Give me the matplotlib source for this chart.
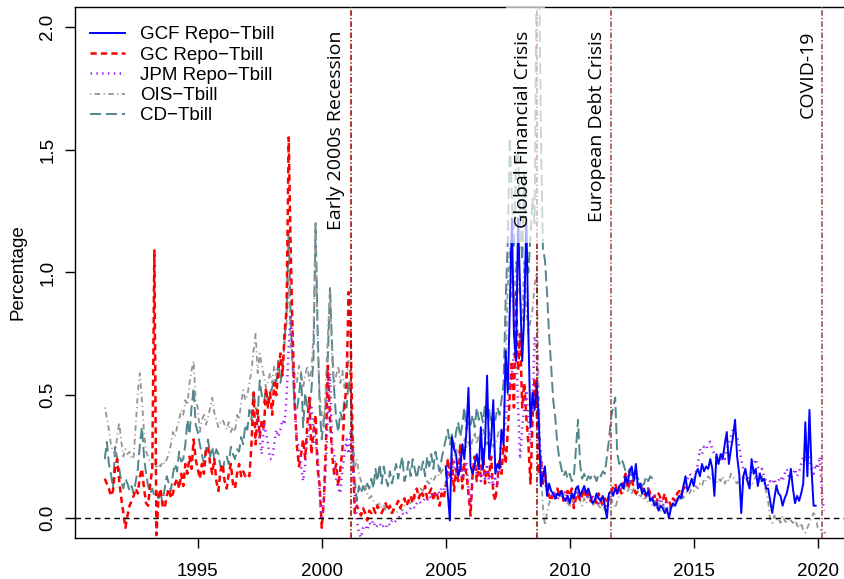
"""Repo and money-market spreads over T-bills, 1991-2020."""
import matplotlib
matplotlib.use("Agg")
import matplotlib.pyplot as plt
import numpy as np
from matplotlib.patches import Rectangle
from matplotlib.ticker import FormatStrFormatter

plt.rcParams.update({
    "font.family": ["Liberation Sans", "DejaVu Sans"],
    "font.size": 13,
    "lines.scale_dashes": False,
})

# monthly spreads (percentage points)
GC_START = 1991 + 3 / 12  # Apr 1991
gc_repo = [
    0.16, 0.14, 0.12, 0.09, 0.11, 0.20, 0.24, 0.15, 0.08,
    0.02, -0.04, 0.01, 0.05, 0.07, 0.09, 0.12, 0.10, 0.17, 0.20, 0.12, 0.06,
    0.05, 0.14, 0.20, 1.09, -0.07, 0.08, 0.12, 0.05, 0.04, 0.09, 0.12, 0.08,
    0.10, 0.14, 0.16, 0.12, 0.18, 0.13, 0.22, 0.18, 0.25, 0.20, 0.32, 0.24,
    0.20, 0.16, 0.22, 0.18, 0.28, 0.29, 0.22, 0.18, 0.24, 0.15, 0.11, 0.19,
    0.22, 0.15, 0.12, 0.18, 0.22, 0.14, 0.12, 0.18, 0.22, 0.17, 0.19, 0.17,
    0.18, 0.17, 0.30, 0.51, 0.30, 0.44, 0.33, 0.40, 0.36, 0.53, 0.45, 0.51,
    0.42, 0.55, 0.50, 0.60, 0.67, 0.58, 0.75, 0.85, 1.55, 1.08, 0.72, 0.45,
    0.29, 0.21, 0.26, 0.32, 0.24, 0.38, 0.49, 0.26, 0.35, 0.42, 0.20, 0.13,
    -0.04, 0.07, 0.30, 0.62, 0.40, 0.26, 0.18, 0.22, 0.13, 0.20, 0.28, 0.45,
    0.55, 0.92, 0.74, 0.26, 0.02, 0.05, 0.03, 0.01, 0.04, 0.02, -0.01, 0.03,
    0.02, 0.04, 0.02, 0.05, 0.03, 0.02, 0.04, 0.06, 0.03, 0.05, 0.02, 0.04,
    0.05, 0.07, 0.04, 0.06, 0.08, 0.05, 0.07, 0.09, 0.06, 0.10, 0.12, 0.08,
    0.11, 0.09, 0.13, 0.08, 0.10, 0.12, 0.07, 0.11, 0.09, 0.05, 0.10, 0.08,
    0.13, 0.24, 0.17, 0.24, 0.11, 0.20, 0.15, 0.30, 0.12, 0.22, 0.18, 0.10,
    0.01, 0.18, 0.25, 0.15, 0.22, 0.17, 0.28, 0.14, 0.20, 0.17, 0.25, 0.10,
    0.07, 0.15, 0.24, 0.18, 0.30, 0.22, 0.35, 0.50, 0.64, 0.45, 0.92, 0.60,
    0.75, 0.45, 0.55, 0.41, 0.30, 0.14, 0.40, 0.57, 0.45, 0.18, 0.25, 0.14,
    0.18, 0.12, 0.09, 0.07, 0.10, 0.08, 0.12, 0.09, 0.11, 0.07, 0.10, 0.11,
    0.09, 0.12, 0.04, 0.08, 0.10, 0.07, 0.09, 0.12, 0.08, 0.10, 0.07, 0.09,
    0.08, 0.06, 0.10, 0.07, 0.05, 0.08, 0.06, 0.09, 0.10, 0.13, 0.14, 0.11,
    0.12, 0.10, 0.15, 0.18, 0.12, 0.14, 0.16, 0.12, 0.10, 0.11, 0.13, 0.12,
    0.10, 0.09, 0.12, 0.10, 0.08, 0.09, 0.06, 0.10, 0.08, 0.07, 0.10, 0.06,
    0.07, 0.05, 0.08, 0.07, 0.10, 0.11, 0.09, 0.13, 0.12,
]

CD_START = 1991 + 3 / 12  # Apr 1991
cd_tbill = [
    0.24, 0.31, 0.22, 0.18, 0.12, 0.29, 0.24, 0.20, 0.15,
    0.12, 0.16, 0.14, 0.11, 0.13, 0.10, 0.15, 0.20, 0.30, 0.37, 0.25, 0.18,
    0.13, 0.10, 0.12, 0.09, 0.11, 0.08, 0.10, 0.06, 0.12, 0.17, 0.14, 0.11,
    0.18, 0.22, 0.19, 0.27, 0.23, 0.24, 0.30, 0.40, 0.34, 0.45, 0.53, 0.38,
    0.35, 0.30, 0.26, 0.22, 0.28, 0.32, 0.25, 0.29, 0.24, 0.28, 0.26, 0.21,
    0.18, 0.24, 0.25, 0.22, 0.29, 0.26, 0.24, 0.28, 0.27, 0.33, 0.30, 0.38,
    0.36, 0.44, 0.40, 0.52, 0.45, 0.42, 0.56, 0.50, 0.47, 0.52, 0.48, 0.51,
    0.53, 0.57, 0.55, 0.64, 0.55, 0.60, 0.72, 0.85, 1.17, 0.81, 0.60, 0.44,
    0.44, 0.50, 0.59, 0.37, 0.51, 0.45, 0.44, 0.52, 0.65, 1.20, 0.78, 0.45,
    0.32, 0.40, 0.47, 0.67, 0.94, 0.70, 0.52, 0.40, 0.35, 0.43, 0.40, 0.48,
    0.45, 0.56, 0.51, 0.26, 0.15, 0.07, 0.13, 0.10, 0.13, 0.11, 0.14, 0.12,
    0.16, 0.12, 0.20, 0.15, 0.22, 0.14, 0.21, 0.16, 0.13, 0.19, 0.14, 0.18,
    0.22, 0.16, 0.21, 0.25, 0.15, 0.18, 0.23, 0.17, 0.24, 0.20, 0.16, 0.21,
    0.19, 0.23, 0.17, 0.25, 0.21, 0.26, 0.20, 0.27, 0.23, 0.19, 0.24, 0.28,
    0.32, 0.36, 0.30, 0.34, 0.29, 0.35, 0.39, 0.33, 0.38, 0.45, 0.36, 0.40,
    0.38, 0.42, 0.37, 0.45, 0.40, 0.43, 0.39, 0.46, 0.41, 0.44, 0.38, 0.43,
    0.40, 0.45, 0.42, 0.48, 0.55, 0.89, 1.12, 1.55, 1.30, 1.10, 1.45, 1.50,
    1.20, 1.05, 1.40, 1.10, 1.00, 1.15, 1.30, 1.20, 2.30, 2.40, 1.60, 1.10,
    1.05, 0.92, 0.75, 0.62, 0.48, 0.41, 0.30, 0.24, 0.20, 0.17, 0.19, 0.16,
    0.18, 0.15, 0.17, 0.28, 0.40, 0.22, 0.16, 0.18, 0.15, 0.17, 0.16, 0.18,
    0.17, 0.15, 0.18, 0.17, 0.19, 0.18, 0.25, 0.32, 0.41, 0.45, 0.49, 0.26,
    0.22, 0.24, 0.22, 0.19, 0.18, 0.20, 0.18, 0.17, 0.19, 0.16, 0.15, 0.13,
    0.14, 0.17, 0.15, 0.17, 0.16, 0.14,
]

OIS_START = 1991 + 3 / 12  # Apr 1991
ois_tbill = [
    0.45, 0.41, 0.36, 0.30, 0.27, 0.26, 0.33, 0.39, 0.31,
    0.25, 0.28, 0.26, 0.27, 0.24, 0.25, 0.38, 0.51, 0.59, 0.48, 0.35, 0.27,
    0.25, 0.23, 0.21, 0.24, 0.20, 0.22, 0.21, 0.23, 0.22, 0.24, 0.26, 0.30,
    0.35, 0.33, 0.37, 0.40, 0.44, 0.42, 0.48, 0.46, 0.55, 0.60, 0.64, 0.48,
    0.45, 0.35, 0.40, 0.42, 0.38, 0.41, 0.45, 0.49, 0.43, 0.40, 0.37, 0.39,
    0.40, 0.38, 0.36, 0.39, 0.35, 0.37, 0.35, 0.42, 0.40, 0.47, 0.52, 0.48,
    0.50, 0.55, 0.60, 0.68, 0.75, 0.59, 0.67, 0.62, 0.58, 0.53, 0.56, 0.59,
    0.55, 0.62, 0.58, 0.60, 0.65, 0.62, 0.70, 0.80, 0.97, 0.70, 0.62, 0.58,
    0.55, 0.62, 0.60, 0.53, 0.58, 0.62, 0.56, 0.60, 0.75, 1.20, 0.70, 0.50,
    0.42, 0.37, 0.55, 0.75, 0.92, 0.65, 0.53, 0.58, 0.62, 0.55, 0.60, 0.53,
    0.58, 0.64, 0.55, 0.35, 0.21, 0.24, 0.18, 0.15, 0.12, 0.13, 0.10, 0.08,
    0.09, 0.07, 0.06, 0.05, 0.06, 0.04, 0.05, 0.03, 0.04, 0.03, 0.02, 0.03,
    0.02, 0.03, 0.04, 0.03, 0.05, 0.06, 0.07, 0.06, 0.09, 0.08, 0.10, 0.11,
    0.12, 0.11, 0.13, 0.15, 0.14, 0.16, 0.15, 0.17, 0.18, 0.17, 0.19, 0.20,
    0.21, 0.24, 0.22, 0.26, 0.25, 0.28, 0.26, 0.30, 0.27, 0.33, 0.29, 0.31,
    0.28, 0.32, 0.35, 0.30, 0.34, 0.31, 0.36, 0.33, 0.30, 0.35, 0.32, 0.29,
    0.30, 0.33, 0.36, 0.31, 0.35, 0.62, 0.95, 1.10, 0.90, 0.85, 1.05, 0.95,
    0.90, 0.80, 1.05, 0.85, 0.75, 0.80, 0.85, 0.95, 1.00, 0.50, 0.20, 0.05,
    -0.03, 0.02, 0.06, 0.08, 0.10, 0.07, 0.09, 0.11, 0.08, 0.10, 0.07, 0.06,
    0.05, 0.08, 0.06, 0.09, 0.12, 0.07, 0.05, 0.08, 0.06, 0.09, 0.07, 0.05,
    0.06, 0.08, 0.05, 0.04, 0.06, 0.03, 0.05, 0.10, 0.08, 0.06, 0.04, 0.07,
    0.09, 0.12, 0.10, 0.14, 0.11, 0.13, 0.10, 0.12, 0.09, 0.11, 0.08, 0.10,
    0.07, 0.09, 0.06, 0.08, 0.05, 0.07, 0.04, 0.06, 0.03, 0.05, 0.04, 0.02,
    0.03, 0.05, 0.04, 0.06, 0.08, 0.07, 0.09, 0.08, 0.10, 0.11, 0.10, 0.12,
    0.11, 0.13, 0.12, 0.14, 0.13, 0.16, 0.15, 0.17, 0.16, 0.18, 0.15, 0.14,
    0.16, 0.15, 0.17, 0.14, 0.16, 0.15, 0.18, 0.17, 0.15, 0.14, 0.16, 0.15,
    0.17, 0.15, 0.16, 0.14, 0.13, 0.15, 0.17, 0.16, 0.15, 0.17, 0.14, 0.11,
    0.07, -0.01, -0.02, 0.01, -0.01, 0.00, -0.02, 0.01, -0.01, -0.02, 0.00, -0.01,
    -0.02, 0.00, -0.03, -0.04, -0.02, -0.05, -0.06, -0.04, -0.02, 0.00, 0.02, 0.01,
    -0.04, -0.05, -0.05, -0.06, -0.06,
]

JPM_START = 1997 + 5 / 12  # Jun 1997
jpm_repo = [
    0.40, 0.32, 0.26, 0.38, 0.35, 0.30, 0.24,
    0.24, 0.30, 0.36, 0.33, 0.36, 0.40, 0.38, 0.50, 0.70, 0.83, 0.64, 0.45,
    0.32, 0.28, 0.21, 0.15, 0.22, 0.32, 0.40, 0.45, 0.37, 0.30, 0.26, 0.10,
    -0.01, 0.07, 0.20, 0.45, 0.59, 0.30, 0.26, 0.15, 0.12, 0.10, 0.20, 0.26,
    0.32, 0.26, 0.36, 0.21, 0.10, -0.01, -0.06, -0.08, -0.04, -0.03, -0.05, -0.02,
    -0.03, -0.01, -0.04, -0.03, -0.02, -0.04, -0.03, -0.04, -0.02, -0.03, -0.01, -0.02,
    -0.01, 0.00, 0.01, 0.02, 0.01, 0.02, 0.03, 0.04, 0.05, 0.04, 0.06, 0.07,
    0.06, 0.07, 0.08, 0.07, 0.09, 0.08, 0.10, 0.09, 0.11, 0.10, 0.12, 0.11,
    0.13, 0.17, 0.21, 0.15, 0.24, 0.17, 0.20, 0.26, 0.17, 0.20, 0.23, 0.12,
    0.05, 0.19, 0.22, 0.18, 0.21, 0.15, 0.20, 0.16, 0.22, 0.14, 0.18, 0.13,
    0.16, 0.14, 0.20, 0.35, 0.33, 0.41, 0.48, 0.55, 0.59, 0.67, 0.71, 0.45,
    0.24, 0.37, 0.45, 0.52, 0.40, 0.30, 0.45, 0.74, 0.68, 0.35, 0.26, 0.18,
    0.14, 0.12, 0.10, 0.08, 0.11, 0.09, 0.07, 0.10, 0.08, 0.09, 0.11, 0.07,
    0.08, 0.10, 0.06, 0.09, 0.11, 0.08, 0.10, 0.12, 0.09, 0.08, 0.10, 0.09,
    0.07, 0.09, 0.06, 0.08, 0.05, 0.07, 0.04, 0.06, 0.09, 0.11, 0.12, 0.10,
    0.12, 0.14, 0.13, 0.16, 0.18, 0.15, 0.19, 0.17, 0.16, 0.14, 0.15, 0.12,
    0.11, 0.10, 0.12, 0.09, 0.08, 0.10, 0.07, 0.06, 0.08, 0.05, 0.07, 0.06,
    0.05, 0.04, 0.06, 0.07, 0.09, 0.08, 0.10, 0.12, 0.14, 0.16, 0.18, 0.17,
    0.15, 0.18, 0.22, 0.28, 0.26, 0.29, 0.28, 0.30, 0.31, 0.28, 0.26, 0.24,
    0.22, 0.24, 0.26, 0.24, 0.28, 0.30, 0.33, 0.36, 0.35, 0.33, 0.29, 0.24,
    0.20, 0.18, 0.15, 0.17, 0.19, 0.22, 0.24, 0.21, 0.18, 0.20, 0.17, 0.15,
    0.13, 0.15, 0.14, 0.16, 0.13, 0.15, 0.17, 0.15, 0.18, 0.20, 0.17, 0.16,
    0.18, 0.20, 0.17, 0.19, 0.22, 0.25, 0.23, 0.27, 0.24, 0.20, 0.18, 0.22,
    0.20, 0.25, 0.10, 0.03,
]

GCF_START = 2005.0  # Jan 2005
gcf_repo = [
    0.21, 0.10, -0.01, 0.33, 0.28, 0.26, 0.17, 0.20, 0.30, 0.24, 0.35, 0.53,
    0.21, 0.18, 0.22, 0.26, 0.20, 0.37, 0.20, 0.30, 0.58, 0.24, 0.32, 0.48,
    0.18, 0.22, 0.20, 0.36, 0.30, 0.68, 0.51, 0.85, 1.22, 0.75, 0.64, 1.22,
    0.92, 0.64, 0.83, 1.22, 0.75, 0.37, 0.51, 0.44, 0.55, 0.41, 0.13, 0.17,
    0.21, 0.09, 0.14, 0.11, 0.10, 0.08, 0.10, 0.09, 0.11, 0.08, 0.07, 0.09,
    0.06, 0.10, 0.08, 0.12, 0.13, 0.09, 0.11, 0.13, 0.10, 0.12, 0.09, 0.06,
    0.07, 0.10, 0.08, 0.07, 0.09, 0.05, 0.00, 0.10, 0.11, 0.09, 0.12, 0.10,
    0.13, 0.14, 0.12, 0.17, 0.14, 0.19, 0.21, 0.15, 0.22, 0.12, 0.14, 0.10,
    0.12, 0.09, 0.11, 0.07, 0.08, 0.05, 0.06, 0.03, 0.05, 0.04, 0.02, 0.04,
    0.00, 0.04, 0.06, 0.05, 0.07, 0.09, 0.08, 0.13, 0.17, 0.11, 0.13, 0.16,
    0.13, 0.18, 0.20, 0.17, 0.22, 0.19, 0.21, 0.20, 0.24, 0.20, 0.09, 0.26,
    0.22, 0.26, 0.24, 0.30, 0.35, 0.22, 0.28, 0.33, 0.40, 0.25, 0.18, 0.02,
    0.17, 0.20, 0.15, 0.12, 0.24, 0.18, 0.20, 0.13, 0.18, 0.15, 0.16, 0.12,
    0.12, 0.07, 0.02, 0.08, 0.13, 0.10, 0.09, 0.05, 0.08, 0.10, 0.14, 0.20,
    0.12, 0.06, 0.09, 0.07, 0.10, 0.14, 0.39, 0.17, 0.44, 0.20, 0.05, 0.05,
]

# event markers (decimal year) and their labels
event_dates = [2001.17, 2008.70, 2011.67, 2020.17]
event_labels = ["Early 2000s Recession", "Global Financial Crisis",
                "European Debt Crisis", "COVID-19"]
event_colors = ["#8B0000", "#8B0000", "#A83A3A", "#A83A3A"]


def months(start, values):
    return start + np.arange(len(values)) / 12.0


fig = plt.figure(figsize=(8.45, 5.79), dpi=100)
ax = fig.add_axes([75 / 845, 41 / 579, 770 / 845, 531 / 579])

series = [
    ("CD\u2212Tbill", CD_START, cd_tbill, "#53868B", (8, 3.5), 1.4, 2),
    ("OIS\u2212Tbill", OIS_START, ois_tbill, "#959595", (0.8, 2.5, 4, 2.5), 1.3, 3),
    ("GC Repo\u2212Tbill", GC_START, gc_repo, "#FF0000", (4.5, 3), 1.8, 4),
    ("JPM Repo\u2212Tbill", JPM_START, jpm_repo, "#A020F0", (1, 3.2), 1.8, 5),
    ("GCF Repo\u2212Tbill", GCF_START, gcf_repo, "#0000FF", None, 1.4, 6),
]
handles = {}
for name, start, vals, color, dash, lw, z in series:
    kw = dict(color=color, lw=lw, zorder=z, label=name)
    if dash is not None:
        kw["dashes"] = dash
    line, = ax.plot(months(start, vals), vals, **kw)
    handles[name] = line

ax.axhline(0, color="black", lw=1.0, dashes=(4, 3), zorder=7)

for d, lab, col in zip(event_dates, event_labels, event_colors):
    ax.axvline(d, color=col, lw=1.1, dashes=(4, 1.5, 1, 1.5), zorder=8)
    ax.annotate(lab, xy=(d, 1.985), xytext=(-4, 0), textcoords="offset points",
                rotation=90, ha="right", va="top", fontsize=14,
                family=["Open Sans", "DejaVu Sans"], zorder=11)

# translucent patch behind the GFC label that washes out the spike peaks
ax.add_patch(Rectangle((2007.45, 1.12), 1.55, 1.2, facecolor="white",
                       edgecolor="none", alpha=0.68, zorder=9))

ax.set_xlim(1990.05, 2021.1)
ax.set_ylim(-0.0815, 2.081)
ax.set_xticks([1995, 2000, 2005, 2010, 2015, 2020])
ax.set_yticks([0.0, 0.5, 1.0, 1.5, 2.0])
ax.yaxis.set_major_formatter(FormatStrFormatter("%.1f"))
ax.tick_params(axis="x", direction="out", length=7, width=1, pad=11, labelsize=13.5)
ax.tick_params(axis="y", direction="out", length=7, width=1, pad=6.5, labelsize=13.5)
for lbl in ax.get_yticklabels():
    lbl.set_rotation(90)
    lbl.set_va("center")
ax.set_ylabel("Percentage", fontsize=13.5, labelpad=9)
ax.spines["right"].set_visible(False)
for s in ("left", "bottom", "top"):
    ax.spines[s].set_linewidth(1.0)

order = ["GCF Repo\u2212Tbill", "GC Repo\u2212Tbill", "JPM Repo\u2212Tbill",
         "OIS\u2212Tbill", "CD\u2212Tbill"]
ax.legend([handles[k] for k in order], order, loc="upper left",
          bbox_to_anchor=(0.019, 0.964), frameon=False, fontsize=13.5,
          handlelength=1.9, handletextpad=0.8, labelspacing=0.17,
          borderpad=0, borderaxespad=0)

fig.savefig("out.png", dpi=100)
